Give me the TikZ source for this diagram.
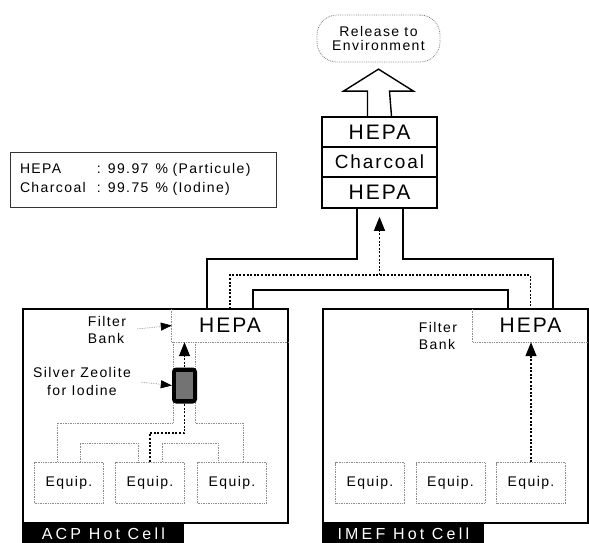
\documentclass[tikz,border=0pt]{standalone}
\usepackage{fontspec}
\setmainfont{Liberation Sans}[LetterSpace=10]
\usetikzlibrary{arrows.meta}

\begin{document}
\begin{tikzpicture}[x=1pt, y=-1pt,
    wall/.style={line width=1.7pt},
    faint/.style={draw=black!45, densely dotted, line width=0.7pt},
    flow/.style={line width=1.4pt, dash pattern=on 2pt off 1.6pt},
    flowtip/.style={-{Triangle[length=14pt, width=11pt]}},
    pointer/.style={faint, -{Triangle[length=11pt, width=8pt, color=black]}},
    small/.style={font=\fontsize{14}{17}\selectfont, inner sep=0pt},
    big/.style={font=\fontsize{21}{24}\selectfont, inner sep=0pt},
    equip/.style={faint, small, minimum width=69pt, minimum height=41pt},
    stacklayer/.style={draw, wall, minimum width=115pt, minimum height=30pt, inner sep=0pt},
    cell/.style={draw, wall, minimum width=265pt, minimum height=214pt, inner sep=0pt},
    celltag/.style={fill=black, text=white, font=\fontsize{16}{18}\selectfont\addfontfeature{LetterSpace=20},
        minimum width=162pt, minimum height=19pt, inner sep=0pt, anchor=north west}]
    \useasboundingbox (0,0) rectangle (589,542);
    \clip (0,0) rectangle (589,542);

    % release and filter stack
    \node[draw=black!50, densely dotted, line width=0.8pt, rounded corners=20pt,
        minimum width=123pt, minimum height=47pt, align=center,
        font=\fontsize{14}{14.5}\selectfont] (rel) at (378.5,38.5) {Release to\\Environment};
    \node[stacklayer, big] (stHepaT) at (379.5,132) {HEPA};
    \node[stacklayer, font=\fontsize{19}{22}\selectfont] (stChar) at (379.5,162) {Charcoal};
    \node[stacklayer, big, minimum height=31pt] (stHepaB) at (379.5,192.5) {HEPA};
    \draw[line width=1.4pt] ([xshift=-12pt]stHepaT.north) -- ++(0,-25) -- ++(-24,0)
        -- ++(35,-22) -- ++(35,22) -- ++(-24,0) -- ([xshift=12pt]stHepaT.north);

    % legend
    \node[draw=black!80, line width=0.8pt, text width=246pt, minimum height=55pt,
        align=left, font=\fontsize{14}{19}\selectfont, inner xsep=10pt, inner ysep=0pt] (legend) at (143,179.5)
        {\makebox[77pt][l]{HEPA}: 99.97 \,\% (Particule)\\
         \makebox[77pt][l]{Charcoal}: 99.75 \,\% (Iodine)};

    % hot cells
    \node[cell] (acp) at (155.5,416) {};
    \node[cell] (imef) at (455.5,416) {};
    \node[celltag] at (acp.south west) {ACP Hot Cell};
    \node[celltag] at (imef.south west) {IMEF Hot Cell};

    % filter banks in the cells
    \node[big, minimum width=116pt, minimum height=33pt] (acpHepa) at (230,325.5) {HEPA};
    \node[big, minimum width=115pt, minimum height=33pt] (imefHepa) at (530.5,325.5) {HEPA};
    \draw[faint] (acpHepa.north west) -- (acpHepa.south west) -- (acpHepa.south east);
    \draw[faint] (imefHepa.north west) -- (imefHepa.south west) -- (imefHepa.south east);

    % ducts to the stack
    \draw[wall] ([xshift=-22.5pt]stHepaB.south) |- (207,259) -- (207,0 |- acp.north);
    \draw[wall] ([xshift=23.5pt]stHepaB.south) |- (553,259) -- (553,0 |- imef.north);
    \draw[wall] (253,0 |- acp.north) |- (508,290) -- (508,0 |- imef.north);
    \draw[flow] (acpHepa.north) |- (imefHepa.north |- 0,275) -- (imefHepa.north);
    \draw[flow, flowtip] (379.5,275) -- ([yshift=-8pt]stHepaB.south);

    % equipment
    \node[equip] (e1) at (69,482.5) {Equip.};
    \node[equip] (e2) at (150,482.5) {Equip.};
    \node[equip] (e3) at (232,482.5) {Equip.};
    \node[equip] (f1) at (370,483) {Equip.};
    \node[equip] (f2) at (450.5,483) {Equip.};
    \node[equip] (f3) at (531,483) {Equip.};

    % manifold in the ACP cell
    \draw[faint] (173,342) |- (57,423) -- (57,0 |- e1.north);
    \draw[faint] (195,342) |- (243,423) -- (243,0 |- e3.north);
    \draw[faint] (80,0 |- e1.north) |- (138,443) -- (138,0 |- e2.north);
    \draw[faint] (162,0 |- e2.north) |- (218,443) -- (218,0 |- e3.north);

    % silver zeolite bed
    \node[fill=black, rounded corners=4pt, minimum width=25pt, minimum height=36pt,
        inner sep=0pt] (zeo) at (184.5,385.5) {};
    \fill[black!55] ([shift={(4pt,-5pt)}]zeo.north west) rectangle ([shift={(-4pt,5pt)}]zeo.south east);
    \draw[flow] (e2.north) |- (zeo.south |- 0,433) -- (zeo.south);
    \draw[flow, flowtip] (zeo.north) -- (acpHepa.south -| zeo.north);
    \draw[flow, flowtip] (f3.north) -- (imefHepa.south -| f3.north);

    % labels
    \node[small, align=left] (fbA) at (107,330) {Filter\\Bank};
    \node[small, align=left] (fbB) at (438,336) {Filter\\Bank};
    \node[small, align=center, font=\fontsize{14}{18}\selectfont] (zeoLbl) at (82,381) {Silver Zeolite\\for Iodine};
    \draw[pointer, shorten <=11pt] (fbA.east) -- (acpHepa.west);
    \draw[pointer, shorten <=10pt] (zeoLbl.east) -- (zeo.west);
\end{tikzpicture}
\end{document}
